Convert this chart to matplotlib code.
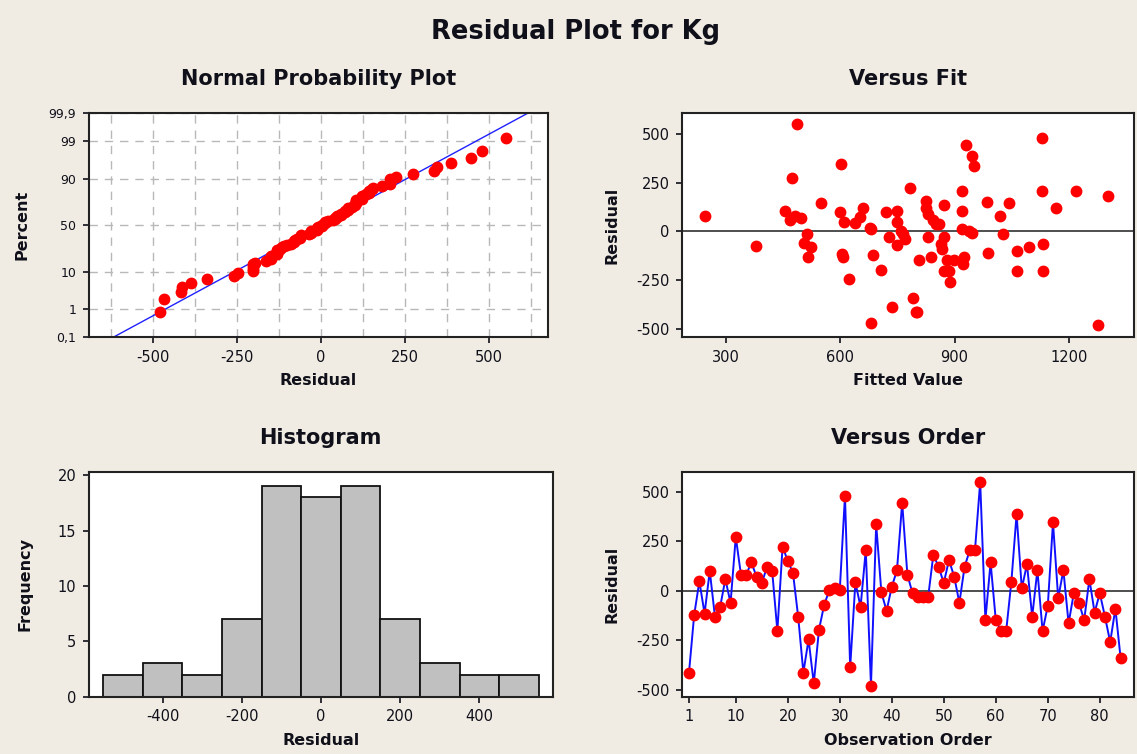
import numpy as np
import matplotlib
matplotlib.use('Agg')
import matplotlib.pyplot as plt
from statistics import NormalDist

# residuals in observation order (1..84)
residuals = [
    -415, -123, 48, -115, 100, -131, -81, 59, -62, 272,
    81, 81, 143, 71, 37, 121, 100, -203, 222, 151,
    91, -131, -413, -246, -468, -197, -71, 3, 13, 3,
    479, -387, 42, -81, 205, -479, 336, -8, -101, 20,
    104, 445, 81, -13, -30, -30, -30, 182, 121, 40,
    155, 72, -61, 121, 205, 205, 550, -148, 143, -148,
    -203, -203, 46, 387, 12, 134, -131, 104, -203, -76,
    345, -37, 104, -165, -12, -62, -148, 59, -110, -12,
    -131, -259, -90, -339,
]

# fitted values, same order
fitted = [
    801, 687, 750, 605, 719, 516, 523, 843, 1132, 474,
    1018, 481, 1043, 498, 859, 659, 600, 873, 782, 986,
    831, 607, 798, 624, 681, 707, 750, 939, 681, 759,
    1130, 736, 638, 1095, 920, 1277, 952, 945, 1064, 678,
    920, 931, 246, 764, 873, 729, 831, 1303, 826, 852,
    824, 652, 504, 1165, 1130, 1218, 486, 880, 549, 899,
    1064, 885, 610, 945, 920, 873, 837, 750, 1132, 378,
    602, 771, 454, 922, 1026, 864, 807, 467, 989, 512,
    924, 888, 868, 792,
]

pct_ticks = [0.1, 1, 10, 50, 90, 99, 99.9]
pct_labels = ['0,1', '1', '10', '50', '90', '99', '99,9']
hist_edges = np.arange(-550, 551, 100)

BG = '#F0ECE3'
TXT = '#10101A'
plt.rcParams['font.family'] = ['DejaVu Sans']
plt.rcParams['axes.unicode_minus'] = False
plt.rcParams['axes.linewidth'] = 1.5
plt.rcParams['xtick.color'] = TXT
plt.rcParams['ytick.color'] = TXT
plt.rcParams['xtick.labelsize'] = 10.5
plt.rcParams['ytick.labelsize'] = 10.5

res = np.array(residuals, dtype=float)
fit = np.array(fitted, dtype=float)
n = len(res)
nd = NormalDist()

fig = plt.figure(figsize=(11.37, 7.54), dpi=100, facecolor=BG)
fig.text(0.506, 0.958, 'Residual Plot for Kg', ha='center', va='center',
         fontsize=18.5, fontweight='bold', color=TXT)

ax_npp = fig.add_axes([0.078, 0.553, 0.404, 0.297])
ax_fit = fig.add_axes([0.600, 0.553, 0.397, 0.297])
ax_hist = fig.add_axes([0.078, 0.076, 0.408, 0.298])
ax_ord = fig.add_axes([0.600, 0.076, 0.397, 0.298])


def style(ax, title, xlabel, ylabel, ypad=14):
    ax.set_title(title, fontsize=15, fontweight='bold', color=TXT, pad=20)
    ax.set_xlabel(xlabel, fontsize=11.5, fontweight='bold', color=TXT, labelpad=6)
    ax.set_ylabel(ylabel, fontsize=11.5, fontweight='bold', color=TXT, labelpad=ypad)
    ax.tick_params(direction='out', length=4, width=1.2, pad=5)
    for s in ax.spines.values():
        s.set_color('#222222')


# normal probability plot
xs = np.sort(res)
probs = (np.arange(1, n + 1) - 0.3) / (n + 0.4)
zs = np.array([nd.inv_cdf(p) for p in probs])
mu, sd = res.mean(), res.std(ddof=1)
zlo, zhi = nd.inv_cdf(0.001), nd.inv_cdf(0.999)
zline = np.array([zlo, zhi])
ax_npp.plot(mu + sd * zline, zline, color='#2020FF', lw=1, zorder=2)
ax_npp.plot(xs, zs, 'o', color='#FF0000', ms=7.5, mec='#FF0000', zorder=3)
ax_npp.set_xlim(-691, 675)
ax_npp.set_ylim(zlo, zhi)
ax_npp.set_xticks([-500, -250, 0, 250, 500])
ax_npp.set_xticks(np.arange(-625, 626, 125), minor=True)
ax_npp.set_yticks([nd.inv_cdf(p / 100) for p in pct_ticks])
ax_npp.set_yticklabels(pct_labels)
ax_npp.tick_params(axis='x', which='minor', length=0)
ax_npp.grid(True, which='both', axis='x', color='#B8B8B8', ls=(0, (6, 5)), lw=1)
ax_npp.grid(True, which='major', axis='y', color='#B8B8B8', ls=(0, (6, 5)), lw=1)
ax_npp.set_axisbelow(True)
style(ax_npp, 'Normal Probability Plot', 'Residual', 'Percent', ypad=14)
ax_npp.tick_params(axis='y', labelsize=9)

# versus fit
ax_fit.axhline(0, color='#404040', lw=1.3, zorder=2)
ax_fit.plot(fit, res, 'o', color='#FF0000', ms=7.5, zorder=3)
ax_fit.set_xlim(185, 1370)
ax_fit.set_ylim(-541, 606)
ax_fit.set_xticks([300, 600, 900, 1200])
ax_fit.set_yticks([-500, -250, 0, 250, 500])
style(ax_fit, 'Versus Fit', 'Fitted Value', 'Residual', ypad=12)

# histogram
ax_hist.hist(res, bins=hist_edges, color='#C0C0C0', edgecolor='#111111', lw=1.3)
ax_hist.set_xlim(-587, 585)
ax_hist.set_ylim(0, 20.3)
ax_hist.set_xticks([-400, -200, 0, 200, 400])
ax_hist.set_yticks([0, 5, 10, 15, 20])
style(ax_hist, 'Histogram', 'Residual', 'Frequency', ypad=18)

# versus order
order = np.arange(1, n + 1)
ax_ord.axhline(0, color='#404040', lw=1.3, zorder=1)
ax_ord.plot(order, res, '-', color='#1010FF', lw=1.4, zorder=2)
ax_ord.plot(order, res, 'o', color='#FF0000', ms=7.5, zorder=3)
ax_ord.set_xlim(-0.3, 86.5)
ax_ord.set_ylim(-535, 600)
ax_ord.set_xticks([1, 10, 20, 30, 40, 50, 60, 70, 80])
ax_ord.set_yticks([-500, -250, 0, 250, 500])
style(ax_ord, 'Versus Order', 'Observation Order', 'Residual', ypad=12)

fig.savefig('out.png', dpi=100, facecolor=BG)
